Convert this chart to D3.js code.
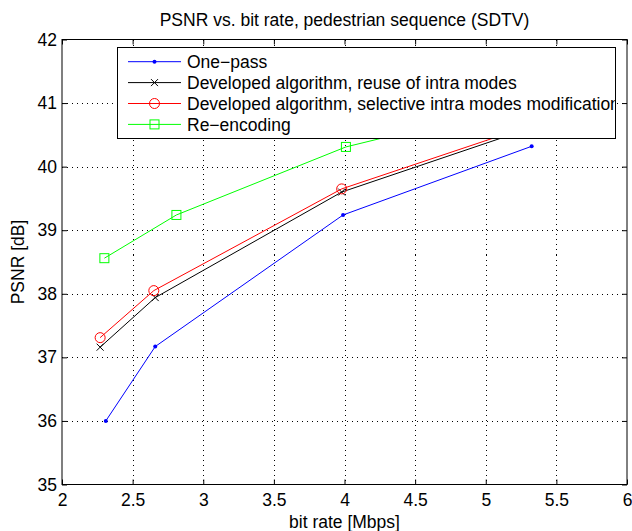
<!DOCTYPE html>
<html>
<head>
<meta charset="utf-8">
<script src="https://cdn.jsdelivr.net/npm/d3@7"></script>
<style>
  body { margin: 0; background: #fff; }
  text { font-family: "Liberation Sans", Arial, Helvetica, sans-serif; fill: #000; }
</style>
</head>
<body>
<div id="chart"></div>
<script>
const xTicks = [2, 2.5, 3, 3.5, 4, 4.5, 5, 5.5, 6];
const yTicks = [35, 36, 37, 38, 39, 40, 41, 42];

const onePassX = [2.31, 2.66, 3.99, 5.325];
const onePassY = [36.0, 37.17, 39.24, 40.32];
const reuseX = [2.27, 2.66, 3.98, 5.31];
const reuseY = [37.16, 37.94, 39.60, 40.60];
const selectiveX = [2.27, 2.65, 3.98, 5.31];
const selectiveY = [37.31, 38.05, 39.65, 40.64];
const reencX = [2.30, 2.81, 4.01, 5.30];
const reencY = [38.56, 39.24, 40.31, 41.01];

const seriesNames = [
  'One\u2212pass',
  'Developed algorithm, reuse of intra modes',
  'Developed algorithm, selective intra modes modification',
  'Re\u2212encoding'
];

const width = 632;
const height = 531;
const plotL = 62, plotR = 627, plotT = 39.5, plotB = 484.5;
const fontSize = 17.5;

const series = [
  { name: seriesNames[0], x: onePassX, y: onePassY, color: '#0000ff', marker: 'dot' },
  { name: seriesNames[1], x: reuseX, y: reuseY, color: '#000000', marker: 'cross' },
  { name: seriesNames[2], x: selectiveX, y: selectiveY, color: '#ff0000', marker: 'circle' },
  { name: seriesNames[3], x: reencX, y: reencY, color: '#00ff00', marker: 'square' }
];

const xScale = d3.scaleLinear().domain([2, 6]).range([plotL, plotR]);
const yScale = d3.scaleLinear().domain([35, 42]).range([plotB, plotT]);

const svg = d3.select('#chart')
  .append('svg')
  .attr('width', width)
  .attr('height', height);

svg.append('rect').attr('width', width).attr('height', height).attr('fill', '#fff');

// grid
const grid = svg.append('g').attr('stroke', '#000').attr('stroke-width', 1)
  .attr('stroke-dasharray', '1,4').attr('shape-rendering', 'crispEdges');
grid.selectAll('.vg')
  .data(xTicks.slice(1, -1))
  .enter().append('line')
  .attr('x1', d => Math.round(xScale(d)) + 0.5).attr('x2', d => Math.round(xScale(d)) + 0.5)
  .attr('y1', plotT).attr('y2', plotB);
grid.selectAll('.hg')
  .data(yTicks.slice(1, -1))
  .enter().append('line')
  .attr('y1', d => Math.round(yScale(d)) + 0.5).attr('y2', d => Math.round(yScale(d)) + 0.5)
  .attr('x1', plotL).attr('x2', plotR);

// axes
const xAxis = d3.axisBottom(xScale).tickValues(xTicks).tickSize(-5).tickPadding(9)
  .tickFormat(d3.format('~g'));
const xAxisTop = d3.axisTop(xScale).tickValues(xTicks).tickSize(-5).tickFormat('');
const yAxis = d3.axisLeft(yScale).tickValues(yTicks).tickSize(-5).tickPadding(5)
  .tickFormat(d3.format('d'));
const yAxisRight = d3.axisRight(yScale).tickValues(yTicks).tickSize(-5).tickFormat('');

function styleAxis(g) {
  g.select('.domain').remove();
  g.selectAll('.tick line').attr('stroke', '#000');
  g.selectAll('.tick text').attr('font-size', fontSize)
    .attr('font-family', '"Liberation Sans", Arial, sans-serif');
}

svg.append('g').attr('transform', `translate(0,${plotB})`).call(xAxis).call(styleAxis);
svg.append('g').attr('transform', `translate(0,${plotT})`).call(xAxisTop).call(styleAxis);
svg.append('g').attr('transform', `translate(${plotL},0)`).call(yAxis).call(styleAxis);
svg.append('g').attr('transform', `translate(${plotR},0)`).call(yAxisRight).call(styleAxis);

svg.append('rect')
  .attr('x', plotL).attr('y', plotT)
  .attr('width', plotR - plotL).attr('height', plotB - plotT)
  .attr('fill', 'none').attr('stroke', '#000').attr('stroke-width', 1);

// markers
function drawMarker(g, type, color) {
  if (type === 'dot') {
    g.append('circle').attr('r', 2).attr('fill', color);
  } else if (type === 'cross') {
    g.append('path').attr('d', 'M-3.5,-3.5L3.5,3.5M-3.5,3.5L3.5,-3.5')
      .attr('stroke', color).attr('stroke-width', 1);
  } else if (type === 'circle') {
    g.append('circle').attr('r', 5).attr('fill', 'none').attr('stroke', color).attr('stroke-width', 1);
  } else if (type === 'square') {
    g.append('rect').attr('x', -4.5).attr('y', -4.5).attr('width', 9).attr('height', 9)
      .attr('fill', 'none').attr('stroke', color).attr('stroke-width', 1);
  }
}

const line = d3.line().x(d => xScale(d[0])).y(d => yScale(d[1]));

series.forEach(s => {
  const pts = s.x.map((x, i) => [x, s.y[i]]);
  svg.append('path')
    .datum(pts)
    .attr('d', line)
    .attr('fill', 'none')
    .attr('stroke', s.color)
    .attr('stroke-width', 1);
  pts.forEach(p => {
    const g = svg.append('g').attr('transform', `translate(${xScale(p[0])},${yScale(p[1])})`);
    drawMarker(g, s.marker, s.color);
  });
});

// legend (text clipped at the box edge like the original)
const legend = svg.append('g');
svg.append('clipPath').attr('id', 'legclip')
  .append('rect').attr('x', 117.5).attr('y', 47.5).attr('width', 497.5).attr('height', 91);
legend.append('rect')
  .attr('x', 117.5).attr('y', 47.5)
  .attr('width', 498).attr('height', 91)
  .attr('fill', '#fff').attr('stroke', 'none');
series.forEach((s, i) => {
  const y = 61.7 + i * 20.9;
  legend.append('line')
    .attr('x1', 128).attr('x2', 181).attr('y1', y).attr('y2', y)
    .attr('stroke', s.color).attr('stroke-width', 1);
  const g = legend.append('g').attr('transform', `translate(154.5,${y})`);
  drawMarker(g, s.marker, s.color);
  legend.append('text')
    .attr('x', 187).attr('y', y).attr('dy', '0.35em')
    .attr('font-size', fontSize)
    .attr('clip-path', 'url(#legclip)')
    .text(s.name);
});
legend.append('rect')
  .attr('x', 117.5).attr('y', 47.5)
  .attr('width', 498).attr('height', 91)
  .attr('fill', 'none').attr('stroke', '#000').attr('stroke-width', 1);

// title and labels
svg.append('text')
  .attr('x', (plotL + plotR) / 2).attr('y', 20).attr('dy', '0.35em')
  .attr('text-anchor', 'middle').attr('font-size', fontSize)
  .text('PSNR vs. bit rate, pedestrian sequence (SDTV)');
svg.append('text')
  .attr('x', (plotL + plotR) / 2).attr('y', 522).attr('dy', '0.35em')
  .attr('text-anchor', 'middle').attr('font-size', fontSize)
  .text('bit rate [Mbps]');
svg.append('text')
  .attr('transform', `translate(18,${(plotT + plotB) / 2}) rotate(-90)`)
  .attr('dy', '0.35em')
  .attr('text-anchor', 'middle').attr('font-size', fontSize)
  .text('PSNR [dB]');
</script>
</body>
</html>
